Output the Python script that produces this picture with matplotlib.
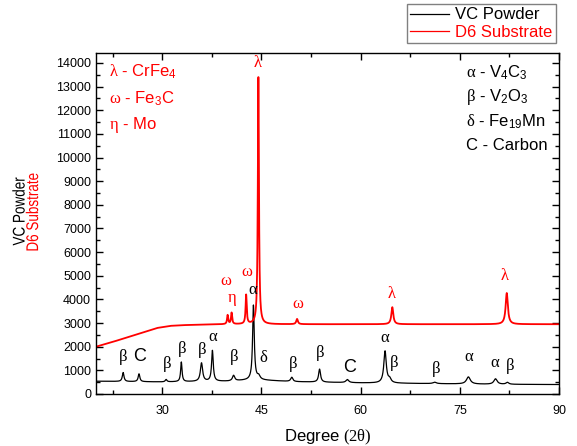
import numpy as np
import matplotlib
matplotlib.use("Agg")
from matplotlib import pyplot as plt
from matplotlib.ticker import MultipleLocator
from matplotlib.textpath import TextPath
from matplotlib.font_manager import FontProperties
from matplotlib.patches import PathPatch
import matplotlib.transforms as mtransforms

plt.rcParams.update({"font.family": ["Liberation Sans", "DejaVu Sans"]})
plt.rcParams.update({"font.size": 12})
plt.rcParams.update({
    "mathtext.fontset": "custom",
    "mathtext.rm": "Liberation Sans",
    "mathtext.it": "Liberation Sans:italic",
    "mathtext.sf": "Liberation Serif",
    "mathtext.bf": "Liberation Sans:bold",
})

# scan range (degrees 2-theta)
two_theta = np.arange(20.0, 90.0, 0.02)

# VC powder: background knots and peaks (position, height above background, fwhm)
vc_bg_pos = [20, 30, 40, 44, 50, 60, 70, 80, 90]
vc_bg_val = [540, 510, 540, 600, 520, 470, 440, 410, 400]
vc_peak_pos = [24.1, 26.5, 30.6, 32.9, 35.95, 37.6, 40.8, 43.8, 44.6, 49.6, 53.8,
               58.0, 63.7, 64.4, 71.2, 76.3, 80.4, 82.2]
vc_peak_hgt = [380, 330, 100, 830, 780, 1300, 230, 3150, 150, 180, 550,
               130, 1350, 150, 60, 300, 230, 80]
vc_peak_fwhm = [0.3, 0.3, 0.3, 0.25, 0.4, 0.3, 0.4, 0.3, 0.5, 0.4, 0.35,
                0.5, 0.45, 0.5, 0.6, 0.7, 0.6, 0.5]

# D6 substrate
d6_bg_pos = [20, 22.5, 25, 27, 29.2, 31.2, 33, 36, 40, 50, 60, 70, 80, 90]
d6_bg_val = [2000, 2200, 2420, 2600, 2790, 2880, 2910, 2930, 2950, 2950, 2950, 2950, 2950, 2950]
d6_peak_pos = [39.9, 40.5, 42.7, 44.55, 50.4, 64.8, 82.1]
d6_peak_hgt = [380, 480, 1230, 10550, 220, 720, 1320]
d6_peak_fwhm = [0.2, 0.2, 0.2, 0.2, 0.3, 0.35, 0.4]

# phase labels (symbol, 2-theta, intensity)
vc_labels = [
    (r"$\mathsf{\beta}$", 24.1, 1550), ("C", 26.6, 1600), (r"$\mathsf{\beta}$", 30.7, 1250),
    (r"$\mathsf{\beta}$", 33.0, 1890), (r"$\mathsf{\beta}$", 36.0, 1860), (r"$\mathsf{\alpha}$", 37.7, 2450),
    (r"$\mathsf{\beta}$", 40.8, 1550), (r"$\mathsf{\alpha}$", 43.7, 4400), (r"$\mathsf{\delta}$", 45.4, 1550),
    (r"$\mathsf{\beta}$", 49.7, 1250), (r"$\mathsf{\beta}$", 53.9, 1750), ("C", 58.3, 1130),
    (r"$\mathsf{\alpha}$", 63.7, 2380), (r"$\mathsf{\beta}$", 65.0, 1320), (r"$\mathsf{\beta}$", 71.4, 1040),
    (r"$\mathsf{\alpha}$", 76.4, 1580), (r"$\mathsf{\alpha}$", 80.4, 1320), (r"$\mathsf{\beta}$", 82.6, 1180),
]
d6_labels = [
    (r"$\mathsf{\omega}$", 39.6, 4820), (r"$\mathsf{\eta}$", 40.6, 3970), (r"$\mathsf{\omega}$", 42.9, 5170),
    (r"$\mathsf{\lambda}$", 44.5, 14050), (r"$\mathsf{\omega}$", 50.5, 3830),
    (r"$\mathsf{\lambda}$", 64.7, 4260), (r"$\mathsf{\lambda}$", 81.8, 5030),
]

d6_phases = [r"$\mathsf{\lambda}$ - CrFe$_4$", r"$\mathsf{\omega}$ - Fe$_3$C", r"$\mathsf{\eta}$ - Mo"]
vc_phases = [r"$\mathsf{\alpha}$ - V$_4$C$_3$", r"$\mathsf{\beta}$ - V$_2$O$_3$",
             r"$\mathsf{\delta}$ - Fe$_{19}$Mn", "C - Carbon"]


def pattern(bg_pos, bg_val, pos, hgt, fwhm):
    y = np.interp(two_theta, bg_pos, bg_val)
    for p, h, w in zip(pos, hgt, fwhm):
        g = (w / 2) ** 2
        y = y + h * g / ((two_theta - p) ** 2 + g)
    return y


def squeezed_label(fig, s, cx, cy, length, size, color):
    # vertical label drawn as a path, squeezed along its length (pixel coords)
    tp = TextPath((0, 0), s, size=size, prop=FontProperties(family="Liberation Sans"))
    ext = tp.get_extents()
    sx = length / ext.width
    tr = (mtransforms.Affine2D()
          .translate(-(ext.x0 + ext.width / 2), -(ext.y0 + ext.height / 2))
          .scale(sx, 1.0)
          .rotate_deg(90)
          .translate(cx, cy))
    fig.add_artist(PathPatch(tr.transform_path(tp), color=color, lw=0,
                             transform=mtransforms.IdentityTransform()))


vc = pattern(vc_bg_pos, vc_bg_val, vc_peak_pos, vc_peak_hgt, vc_peak_fwhm)
d6 = pattern(d6_bg_pos, d6_bg_val, d6_peak_pos, d6_peak_hgt, d6_peak_fwhm)

fig = plt.figure(figsize=(5.77, 4.46), dpi=100)
ax = fig.add_axes([0.1664, 0.1166, 0.8024, 0.7646])

l1, = ax.plot(two_theta, vc, color="black", lw=0.9, label="VC Powder")
l2, = ax.plot(two_theta, d6, color="red", lw=1.3, label="D6 Substrate")

for s, x, y in vc_labels:
    ax.text(x, y, s, color="black", ha="center", va="center",
            fontsize=13 if s == "C" else 12)
for s, x, y in d6_labels:
    ax.text(x, y, s, color="red", ha="center", va="center", fontsize=12)

for i, s in enumerate(d6_phases):
    ax.text(0.028, 0.945 - i * 0.078, s, color="red", transform=ax.transAxes,
            ha="left", va="center", fontsize=12)
for i, s in enumerate(vc_phases):
    ax.text(0.80, 0.941 - i * 0.071, s, color="black", transform=ax.transAxes,
            ha="left", va="center", fontsize=12)

ax.set_xlim(20, 90)
ax.set_ylim(0, 14420)
ax.set_xticks([30, 45, 60, 75, 90])
ax.xaxis.set_minor_locator(MultipleLocator(7.5))
ax.set_yticks(np.arange(0, 14001, 1000))
ax.yaxis.set_minor_locator(MultipleLocator(500))
ax.tick_params(which="both", direction="in", top=True, right=True, labelsize=9)
ax.tick_params(which="major", length=5, width=1)
ax.tick_params(which="minor", length=3, width=1)
ax.tick_params(axis="x", pad=8)
for sp in ax.spines.values():
    sp.set_linewidth(1)

ax.set_xlabel(r"Degree $\mathsf{(2\theta)}$", fontsize=12, labelpad=8)

squeezed_label(fig, "VC Powder", 18.5, 446 - 211.5, 68, 17, "black")
squeezed_label(fig, "D6 Substrate", 32, 446 - 212, 77, 17, "red")

leg = fig.legend(handles=[l1, l2], loc="upper right",
                 bbox_to_anchor=(556 / 577, 1 - 4 / 446), fontsize=12,
                 fancybox=False, framealpha=1, edgecolor="#808080",
                 handlelength=2.3, borderpad=0.2, labelspacing=0.15,
                 handletextpad=0.4, borderaxespad=0)
for t, c in zip(leg.get_texts(), ["black", "red"]):
    t.set_color(c)
for h in leg.get_lines():
    h.set_linewidth(0.9)

fig.savefig("out.png", dpi=100)
